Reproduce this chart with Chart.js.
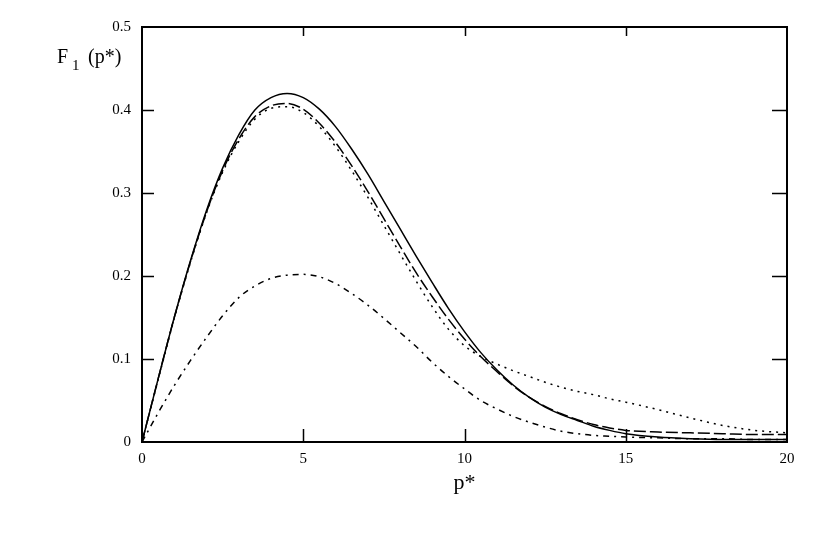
<!DOCTYPE html>
<html>
<head>
<meta charset="utf-8">
<script src="https://cdn.jsdelivr.net/npm/chart.js@4/dist/chart.umd.min.js"></script>
<style>
  html, body { margin: 0; padding: 0; background: #fff; }
  #wrap { width: 830px; height: 560px; }
</style>
</head>
<body>
<div id="wrap"><canvas id="chart"></canvas></div>
<script>
// p* sample points
const pValues = [0, 0.5, 1, 1.5, 2, 2.5, 3, 3.5, 4, 4.5, 5, 5.5, 6, 6.5, 7, 7.5, 8, 8.5, 9, 9.5,
    10, 10.5, 11, 11.5, 12, 12.5, 13, 13.5, 14, 14.5, 15, 16, 17, 18, 19, 20];

// F1(p*) curves
const solidValues = [0, 0.076, 0.150, 0.218, 0.279, 0.330, 0.370, 0.400, 0.415, 0.420, 0.415, 0.401,
    0.380, 0.353, 0.323, 0.290, 0.257, 0.224, 0.192, 0.161,
    0.133, 0.108, 0.087, 0.069, 0.054, 0.042, 0.033, 0.026, 0.019, 0.014, 0.010, 0.006, 0.004, 0.003, 0.003, 0.003];
const dashedValues = [0, 0.076, 0.150, 0.217, 0.277, 0.327, 0.365, 0.392, 0.405, 0.408, 0.401, 0.384,
    0.361, 0.333, 0.302, 0.269, 0.236, 0.204, 0.175, 0.148,
    0.124, 0.103, 0.085, 0.068, 0.054, 0.043, 0.034, 0.027, 0.021, 0.017, 0.014, 0.012, 0.011, 0.010, 0.009, 0.009];
const dottedValues = [0, 0.075, 0.149, 0.216, 0.276, 0.325, 0.362, 0.389, 0.402, 0.404, 0.397, 0.380,
    0.356, 0.327, 0.295, 0.261, 0.227, 0.194, 0.163, 0.136,
    0.116, 0.103, 0.094, 0.086, 0.079, 0.072, 0.066, 0.061, 0.057, 0.052, 0.048, 0.039, 0.029, 0.020, 0.014, 0.011];
const dashDotValues = [0, 0.035, 0.068, 0.098, 0.126, 0.152, 0.174, 0.188, 0.197, 0.201, 0.202, 0.199,
    0.191, 0.179, 0.165, 0.149, 0.132, 0.115, 0.096, 0.079,
    0.064, 0.050, 0.040, 0.031, 0.024, 0.018, 0.013, 0.010, 0.008, 0.007, 0.006, 0.005, 0.004, 0.004, 0.003, 0.003];

const xTicks = [0, 5, 10, 15, 20];
const yTicks = [0, 0.1, 0.2, 0.3, 0.4, 0.5];

const serif = "'Liberation Serif', 'DejaVu Serif', serif";

function toPoints(values) {
    return pValues.map((p, i) => ({ x: p, y: values[i] }));
}

function makeLine(values, dash) {
    return {
        data: toPoints(values),
        borderColor: "#000",
        borderWidth: 1.5,
        borderDash: dash,
        pointRadius: 0,
        fill: false,
        cubicInterpolationMode: "monotone",
    };
}

// frame, inner ticks and the y axis caption
const framePlugin = {
    id: "frame",
    afterDraw(chart) {
        const { ctx, chartArea: a, scales } = chart;
        ctx.save();
        ctx.strokeStyle = "#000";
        ctx.lineWidth = 2;
        ctx.strokeRect(a.left, a.top, a.right - a.left, a.bottom - a.top);

        ctx.lineWidth = 1.5;
        ctx.beginPath();
        xTicks.slice(1, -1).forEach((v) => {
            const x = Math.round(scales.x.getPixelForValue(v)) + 0.5;
            ctx.moveTo(x, a.bottom);
            ctx.lineTo(x, a.bottom - 13);
            ctx.moveTo(x, a.top);
            ctx.lineTo(x, a.top + 9);
        });
        yTicks.slice(1, -1).forEach((v) => {
            const y = Math.round(scales.y.getPixelForValue(v)) + 0.5;
            ctx.moveTo(a.left, y);
            ctx.lineTo(a.left + 12, y);
            ctx.moveTo(a.right, y);
            ctx.lineTo(a.right - 15, y);
        });
        ctx.stroke();

        ctx.fillStyle = "#000";
        ctx.textBaseline = "alphabetic";
        ctx.font = "20px " + serif;
        ctx.fillText("F", 57, 63);
        ctx.font = "15px " + serif;
        ctx.fillText("1", 72, 70);
        ctx.font = "20px " + serif;
        ctx.fillText("(p*)", 88, 63);
        ctx.restore();
    },
};

new Chart(document.getElementById("chart"), {
    type: "line",
    data: {
        datasets: [
            makeLine(solidValues, []),
            makeLine(dashedValues, [12, 4]),
            makeLine(dottedValues, [2, 5]),
            makeLine(dashDotValues, [6, 5, 2, 5]),
        ],
    },
    options: {
        responsive: true,
        maintainAspectRatio: false,
        animation: false,
        layout: { padding: { left: 102, right: 43, top: 27, bottom: 58 } },
        plugins: {
            legend: { display: false },
            tooltip: { enabled: false },
        },
        scales: {
            x: {
                type: "linear",
                min: 0,
                max: 20,
                grid: { display: false },
                border: { display: false },
                afterFit(scale) { scale.height = 60; },
                ticks: {
                    stepSize: 5,
                    padding: 0,
                    color: "#000",
                    maxRotation: 0,
                    font: { family: serif, size: 15 },
                },
                title: {
                    display: true,
                    text: "p*",
                    color: "#000",
                    font: { family: serif, size: 22 },
                    padding: { top: 0, bottom: 6 },
                },
            },
            y: {
                type: "linear",
                min: 0,
                max: 0.5,
                grid: { display: false },
                border: { display: false },
                afterFit(scale) { scale.width = 40; },
                ticks: {
                    stepSize: 0.1,
                    padding: 3,
                    color: "#000",
                    font: { family: serif, size: 15 },
                    callback: (v) => String(Math.round(v * 10) / 10),
                },
            },
        },
    },
    plugins: [framePlugin],
});
</script>
</body>
</html>
